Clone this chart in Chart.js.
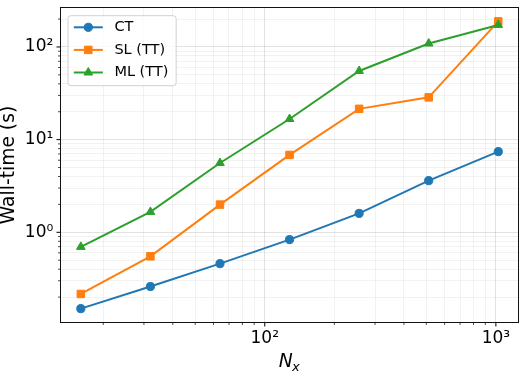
<!DOCTYPE html>
<html><head><meta charset="utf-8">
<script src="https://cdn.jsdelivr.net/npm/chart.js@4/dist/chart.umd.min.js"></script>
<style>html,body{margin:0;padding:0;background:#fff;overflow:hidden}#wrap{width:527px;height:379px}</style>
</head><body><div id="wrap"><canvas id="c" width="527" height="379"></canvas></div>
<script>
// ---- data ----
const nx = [16, 32, 64, 128, 256, 512, 1024];
const ctTime = [0.150, 0.260, 0.459, 0.834, 1.60, 3.61, 7.42];
const slTime = [0.216, 0.551, 1.99, 6.84, 21.5, 28.6, 189];
const mlTime = [0.696, 1.66, 5.6, 16.7, 55.1, 109, 173];
const seriesLabels = ['CT', 'SL (TT)', 'ML (TT)'];
const xLabelMain = 'N';
const xLabelSub = 'x';
const yLabel = 'Wall-time (s)';
// axis ranges
const xMin = 13.0, xMax = 1259;
const yMin = 0.105, yMax = 270;

const FONT = "'DejaVu Sans', sans-serif";
const colors = ['#1f77b4', '#ff7f0e', '#2ca02c'];
const styles = ['circle', 'rect', 'triangle'];
const radii = [4.1, 5.3, 5.0];

const SUP = {'0':'⁰','1':'¹','2':'²','3':'³','4':'⁴','5':'⁵','6':'⁶','7':'⁷','8':'⁸','9':'⁹','-':'⁻'};
function sup(n){ return String(n).split('').map(c => SUP[c]).join(''); }
function isMajor(v){ const l = Math.log10(v); return Math.abs(l - Math.round(l)) < 1e-6; }
function logTicks(min, max){
  const t = [];
  for (let k = Math.floor(Math.log10(min)); k <= Math.ceil(Math.log10(max)); k++) {
    for (let m = 1; m <= 9; m++) {
      const v = m * Math.pow(10, k);
      if (v >= min && v <= max) t.push({value: v, major: m === 1});
    }
  }
  return t;
}
function tickLabel(v){ return isMajor(v) ? '10' + sup(Math.round(Math.log10(v))) : ''; }
const gridColor = (c) => (c.tick && isMajor(c.tick.value)) ? 'rgba(0,0,0,0.13)' : 'rgba(0,0,0,0.08)';
const gridWidth = (c) => (c.tick && isMajor(c.tick.value)) ? 0.9 : 0.7;
function zeroPad(s){ s.paddingTop = 0; s.paddingBottom = 0; s.paddingLeft = 0; s.paddingRight = 0; }

const series = [ctTime, slTime, mlTime];
const datasets = series.map((arr, i) => ({
  label: seriesLabels[i],
  data: nx.map((x, j) => ({x: x, y: arr[j]})),
  borderColor: colors[i],
  backgroundColor: colors[i],
  pointBackgroundColor: colors[i],
  pointBorderColor: colors[i],
  pointStyle: styles[i],
  pointRadius: radii[i],
  pointBorderWidth: 1,
  borderWidth: 2,
  tension: 0,
  order: 2 - i
}));

function drawMarker(ctx, style, r, x, y){
  ctx.beginPath();
  if (style === 'circle') { ctx.arc(x, y, r, 0, Math.PI*2); }
  else if (style === 'rect') { const s = Math.SQRT1_2 * r; ctx.rect(x - s, y - s, 2*s, 2*s); }
  else { ctx.moveTo(x, y - r); ctx.lineTo(x - r*0.866, y + r*0.5); ctx.lineTo(x + r*0.866, y + r*0.5); ctx.closePath(); }
  ctx.fill(); ctx.stroke();
}

const decor = {
  id: 'decor',
  afterDatasetsDraw(chart){
    const ctx = chart.ctx, a = chart.chartArea;
    const xs = chart.scales.x, ys = chart.scales.y;
    ctx.save();
    ctx.strokeStyle = '#000';
    xs.ticks.forEach(t => {
      const p = xs.getPixelForValue(t.value), maj = isMajor(t.value);
      ctx.lineWidth = maj ? 1 : 0.7;
      ctx.beginPath(); ctx.moveTo(p, a.bottom); ctx.lineTo(p, a.bottom + (maj ? 3.5 : 2)); ctx.stroke();
    });
    ys.ticks.forEach(t => {
      const p = ys.getPixelForValue(t.value), maj = isMajor(t.value);
      ctx.lineWidth = maj ? 1 : 0.7;
      ctx.beginPath(); ctx.moveTo(a.left, p); ctx.lineTo(a.left - (maj ? 3.5 : 2), p); ctx.stroke();
    });
    ctx.lineWidth = 1;
    ctx.strokeStyle = '#111';
    ctx.strokeRect(a.left + 0.5, a.top + 0.5, a.right - a.left - 1, a.bottom - a.top - 1);

    // x axis title: italic N with subscript x
    const fsT = 18.7, fsS = 13.1;
    ctx.fillStyle = '#000'; ctx.textBaseline = 'alphabetic'; ctx.textAlign = 'left';
    ctx.font = 'italic ' + fsT + 'px ' + FONT;
    const wN = ctx.measureText(xLabelMain).width;
    ctx.font = 'italic ' + fsS + 'px ' + FONT;
    const wX = ctx.measureText(xLabelSub).width;
    const cx = (a.left + a.right) / 2;
    const x0 = cx - (wN + wX) / 2;
    ctx.font = 'italic ' + fsT + 'px ' + FONT;
    ctx.fillText(xLabelMain, x0, 366.7);
    ctx.font = 'italic ' + fsS + 'px ' + FONT;
    ctx.fillText(xLabelSub, x0 + wN - 0.5, 371);

    // legend
    const fs = 14.5;
    ctx.font = fs + 'px ' + FONT;
    const labels = chart.data.datasets.map(d => d.label);
    const tw = Math.max(...labels.map(l => ctx.measureText(l).width));
    const pad = 5.8, hl = 29, htp = 11.6;
    const lx = a.left + 8, ly = a.top + 8.7;
    const w = pad + hl + htp + tw + pad + 2, h = 70;
    ctx.beginPath();
    if (ctx.roundRect) ctx.roundRect(lx, ly, w, h, 3); else ctx.rect(lx, ly, w, h);
    ctx.fillStyle = 'rgba(255,255,255,0.8)'; ctx.fill();
    ctx.lineWidth = 1; ctx.strokeStyle = '#d0d0d0'; ctx.stroke();
    chart.data.datasets.forEach((d, i) => {
      const cy = ly + 11.6 + i * 22.6;
      ctx.strokeStyle = d.borderColor; ctx.fillStyle = d.borderColor; ctx.lineWidth = 2;
      ctx.beginPath(); ctx.moveTo(lx + pad, cy); ctx.lineTo(lx + pad + hl, cy); ctx.stroke();
      ctx.lineWidth = 1;
      drawMarker(ctx, d.pointStyle, d.pointRadius, lx + pad + hl/2, cy);
      ctx.fillStyle = '#000'; ctx.textBaseline = 'middle'; ctx.textAlign = 'left';
      ctx.fillText(d.label, lx + pad + hl + htp, cy);
    });
    ctx.restore();
  }
};

new Chart(document.getElementById('c'), {
  type: 'line',
  data: { datasets: datasets },
  plugins: [decor],
  options: {
    responsive: false,
    animation: false,
    layout: { padding: { left: 0, right: 8, top: 7, bottom: 0 } },
    plugins: { legend: { display: false }, tooltip: { enabled: false } },
    scales: {
      x: {
        type: 'logarithmic', position: 'bottom', min: xMin, max: xMax, bounds: 'data',
        afterBuildTicks: (s) => { s.ticks = logTicks(s.min, s.max); },
        afterFit: (s) => { s.height = 56; zeroPad(s); },
        ticks: { autoSkip: false, maxRotation: 0, minRotation: 0, padding: 5.6, color: '#000',
                 font: { family: FONT, size: 17 }, callback: (v) => tickLabel(v) },
        grid: { drawTicks: false, color: gridColor, lineWidth: gridWidth },
        border: { display: false },
        title: { display: false }
      },
      y: {
        type: 'logarithmic', position: 'left', min: yMin, max: yMax, bounds: 'data',
        afterBuildTicks: (s) => { s.ticks = logTicks(s.min, s.max); },
        afterFit: (s) => { s.width = 60; zeroPad(s); },
        ticks: { autoSkip: false, padding: 6.7, color: '#000',
                 font: { family: FONT, size: 17 }, callback: (v) => tickLabel(v) },
        grid: { drawTicks: false, color: gridColor, lineWidth: gridWidth },
        border: { display: false },
        title: { display: true, text: yLabel, color: '#000',
                 font: { family: FONT, size: 18.7, lineHeight: 1 },
                 padding: { top: 0, bottom: 0 } }
      }
    }
  }
});
</script>
</body></html>
